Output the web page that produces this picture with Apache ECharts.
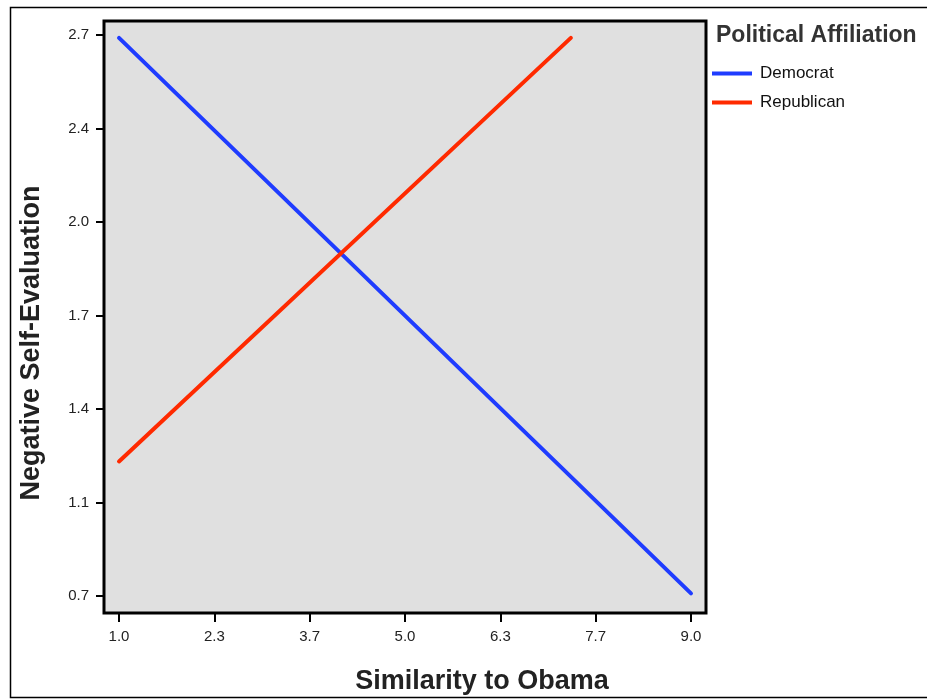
<!DOCTYPE html>
<html>
<head>
<meta charset="utf-8">
<script src="https://cdn.jsdelivr.net/npm/echarts@6/dist/echarts.min.js"></script>
<style>
html,body{margin:0;padding:0;background:#fff;}
#chart{width:927px;height:700px;}
</style>
</head>
<body>
<div id="chart"></div>
<script>
// ---- data ----
var xTickValues = [1.0, 1 + 4/3, 1 + 8/3, 5.0, 1 + 16/3, 1 + 20/3, 9.0];
var xTickLabels = ['1.0', '2.3', '3.7', '5.0', '6.3', '7.7', '9.0'];
var yTickValues = [0.7, 0.7 + 1/3, 0.7 + 2/3, 1.7, 0.7 + 4/3, 0.7 + 5/3, 2.7];
var yTickLabels = ['0.7', '1.1', '1.4', '1.7', '2.0', '2.4', '2.7'];
var seriesNames = ['Democrat', 'Republican'];
var democratX = [1.0, 9.0];
var democratY = [2.69, 0.71];
var republicanX = [1.0, 7.32];
var republicanY = [1.18, 2.69];
var xTitle = 'Similarity to Obama';
var yTitle = 'Negative Self-Evaluation';
var legendTitle = 'Political Affiliation';

function pairs(xs, ys){ return xs.map(function(x,i){ return [x, ys[i]]; }); }
function labelFor(values, labels){
  return function(v){
    for (var i=0;i<values.length;i++){ if (Math.abs(values[i]-v) < 1e-6) return labels[i]; }
    return '';
  };
}

var chart = echarts.init(document.getElementById('chart'), null, {renderer:'canvas'});
var font = 'Liberation Sans, Arial, sans-serif';
var option = {
  animation: false,
  backgroundColor: '#ffffff',
  grid: {
    left: 104, top: 21, right: 221, bottom: 87,
    show: true, backgroundColor: '#e0e0e0', borderColor: '#000', borderWidth: 3,
    containLabel: false
  },
  xAxis: {
    type: 'value', min: 0.79, max: 9.21,
    axisLine: {show: false},
    splitLine: {show: false},
    axisTick: {show: true, length: 9, inside: false, customValues: xTickValues, lineStyle: {color: '#000', width: 2}},
    axisLabel: {customValues: xTickValues, formatter: labelFor(xTickValues, xTickLabels), color: '#222', fontFamily: font, fontSize: 15, margin: 16}
  },
  yAxis: {
    type: 'value', min: 0.64, max: 2.75,
    axisLine: {show: false},
    splitLine: {show: false},
    axisTick: {show: true, length: 8, inside: false, customValues: yTickValues, lineStyle: {color: '#000', width: 2}},
    axisLabel: {customValues: yTickValues, formatter: labelFor(yTickValues, yTickLabels), color: '#222', fontFamily: font, fontSize: 15, margin: 15}
  },
  legend: {
    orient: 'vertical', left: 707, top: 60, itemWidth: 40, itemHeight: 4, itemGap: 12,
    icon: 'rect',
    data: seriesNames,
    textStyle: {fontFamily: font, fontSize: 17, color: '#111', padding: [0,0,0,3]}
  },
  graphic: [
    {type: 'rect', shape: {x: 10.5, y: 7.5, width: 930, height: 690}, style: {fill: 'none', stroke: '#000', lineWidth: 1.5}, z: -1},
    {type: 'text', left: 716, top: 24, style: {text: legendTitle, font: 'bold 23px ' + font, fill: '#333'}},
    {type: 'text', x: 482, y: 682, style: {text: xTitle, font: 'bold 27px ' + font, fill: '#222', align: 'center', verticalAlign: 'middle'}},
    {type: 'text', x: 32, y: 343, rotation: Math.PI/2, style: {text: yTitle, font: 'bold 27px ' + font, fill: '#222', align: 'center', verticalAlign: 'middle'}}
  ],
  series: [
    {name: seriesNames[0], type: 'line', data: pairs(democratX, democratY), showSymbol: false, symbol: 'none',
     lineStyle: {color: '#1f3cff', width: 4, cap: 'round'}, itemStyle: {color: '#1f3cff'}, clip: false},
    {name: seriesNames[1], type: 'line', data: pairs(republicanX, republicanY), showSymbol: false, symbol: 'none',
     lineStyle: {color: '#ff2a00', width: 4, cap: 'round'}, itemStyle: {color: '#ff2a00'}, clip: false}
  ]
};
chart.setOption(option);
</script>
</body>
</html>
